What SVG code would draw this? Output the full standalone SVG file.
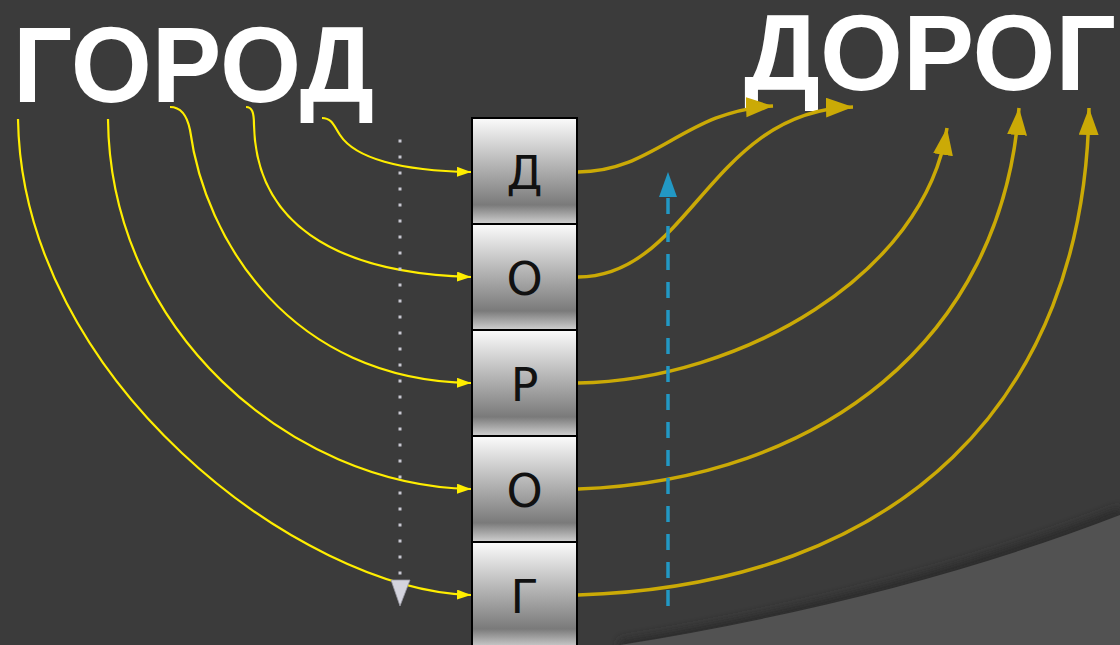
<svg xmlns="http://www.w3.org/2000/svg" width="1120" height="645" viewBox="0 0 1120 645">
<defs>
<style>
.title{font-family:"Liberation Sans",Arial,sans-serif;font-weight:bold;font-size:107px;fill:#ffffff}
.box{stroke:#000;stroke-width:2;fill:url(#boxg)}
.lt{font-family:"DejaVu Sans","Liberation Sans",sans-serif;font-size:46px;fill:#111;text-anchor:middle}
.yl{fill:none;stroke:#ffee00;stroke-width:2.2;marker-end:url(#ya)}
.gd{fill:none;stroke:#cbaa06;stroke-width:3.5;marker-end:url(#ga)}
</style>
<linearGradient id="boxg" x1="0" y1="0" x2="0" y2="1">
<stop offset="0" stop-color="#fbfbfb"/>
<stop offset="0.45" stop-color="#b4b4b4"/>
<stop offset="0.82" stop-color="#7a7a7a"/>
<stop offset="1" stop-color="#d0d0d0"/>
</linearGradient>
<marker id="ya" markerUnits="userSpaceOnUse" markerWidth="16" markerHeight="12" refX="14" refY="5" orient="auto" viewBox="0 0 16 12">
<path d="M0,0 L14,5 L0,10 z" fill="#ffee00"/>
</marker>
<marker id="ga" markerUnits="userSpaceOnUse" markerWidth="30" markerHeight="22" refX="27" refY="10" orient="auto" viewBox="0 0 30 22">
<path d="M0,0 L27,10 L0,20 z" fill="#cbaa06"/>
</marker>
<filter id="blur" x="-10%" y="-50%" width="120%" height="200%"><feGaussianBlur stdDeviation="5"/></filter>
</defs>
<rect x="0" y="0" width="1120" height="645" fill="#3b3b3b"/>
<path d="M620,647 Q900,600 1122,513" fill="none" stroke="#2a2a2a" stroke-width="12" filter="url(#blur)"/>
<path d="M620,645 Q900,600 1120,515 L1120,645 Z" fill="#525252"/>

<g id="title-left"><text class="title" x="13" y="102" textLength="361" lengthAdjust="spacingAndGlyphs">ГОРОД</text></g>
<g id="title-right"><text class="title" x="744" y="90" textLength="372" lengthAdjust="spacingAndGlyphs">ДОРОГ</text></g>

<g id="connectors">
<path class="yl" d="M18,119 C22,380 300,590 471,595"/>
<path class="yl" d="M108,119 C110,330 290,485 471,489"/>
<path class="yl" d="M170,107 C180,107 187,115 190,130 C205,240 290,380 471,383"/>
<path class="yl" d="M246,107 C252,107 254,112 254,125 C256,220 330,273 471,277"/>
<path class="yl" d="M322,118 C332,118 334,126 340,135 C355,158 400,171 471,172"/>
<path class="gd" d="M578,172 C655,172 685,110 773,106"/>
<path class="gd" d="M578,277 C690,277 710,110 853,107"/>
<path class="gd" d="M578,383 C740,380 925,275 947,128"/>
<path class="gd" d="M578,489 C820,480 1002,340 1019,108"/>
<path class="gd" d="M578,595 C900,585 1085,400 1089,108"/>
<path d="M400,139.5 V576" fill="none" stroke="#c8c8d2" stroke-width="3" stroke-dasharray="3 13"/>
<path d="M391,580 L410,580 L400,606 z" fill="#d4d4de" stroke="#9a9aa4" stroke-width="0.8"/>
<path d="M668,606 V197" fill="none" stroke="#2298c4" stroke-width="3.5" stroke-dasharray="16 12"/>
<path d="M659,197 L677,197 L668,172 z" fill="#2298c4"/>
</g>

<g id="node-1"><rect class="box" x="472" y="118" width="105" height="106"/><text class="lt" x="524.5" y="189">Д</text></g>
<g id="node-2"><rect class="box" x="472" y="224" width="105" height="106"/><text class="lt" x="524.5" y="295">О</text></g>
<g id="node-3"><rect class="box" x="472" y="330" width="105" height="106"/><text class="lt" x="524.5" y="401">Р</text></g>
<g id="node-4"><rect class="box" x="472" y="436" width="105" height="106"/><text class="lt" x="524.5" y="507">О</text></g>
<g id="node-5"><rect class="box" x="472" y="542" width="105" height="106"/><text class="lt" x="524.5" y="613">Г</text></g>
</svg>
